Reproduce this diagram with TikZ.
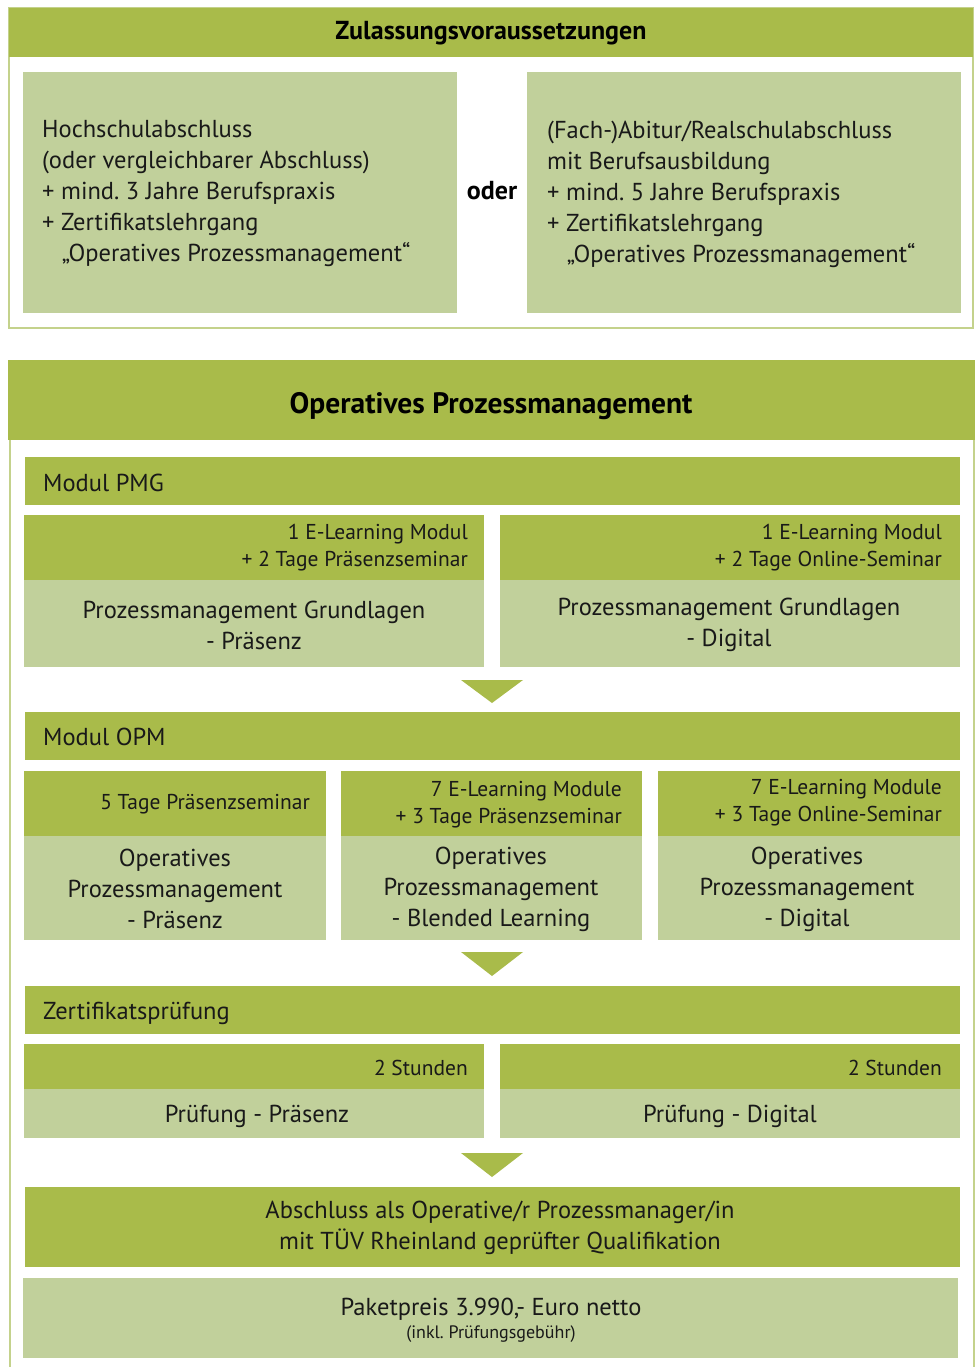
\documentclass[tikz,border=0pt]{standalone}
\usepackage{fontspec}
\setmainfont{PT Sans}
\usetikzlibrary{calc}
\frenchspacing
\definecolor{dk}{RGB}{169,187,74}
\definecolor{lt}{RGB}{193,208,155}
\definecolor{frame}{RGB}{196,210,140}
\newcommand\rbox[6]{\node[inner sep=0pt,outer sep=0pt,anchor=north west,fill=#2,minimum width={(#5-#3)*1pt},minimum height={(#6-#4)*1pt}] (#1) at (#3,#4) {};}
\tikzset{
  big/.style={font=\fontsize{24.5}{31}\selectfont, inner sep=0pt, text=black!90},
  small/.style={font=\fontsize{21.5}{27}\selectfont, inner sep=0pt, align=right, text=black!90},
  head/.style={font=\fontsize{26}{30}\selectfont\bfseries, inner sep=0pt},
  tri/.style={fill=dk}
}
\begin{document}
\begin{tikzpicture}[x=1pt,y=-1pt]
\useasboundingbox (0,0) rectangle (976,1367);
% ---------- Zulassungsvoraussetzungen ----------
\node[inner sep=0pt,outer sep=0pt,anchor=north west,draw=frame,line width=2pt,minimum width=964pt,minimum height=320pt] (zulFrame) at (9,8) {};
\rbox{zulHead}{dk}{9}{8}{973}{57}
\node[head] (zulT) at (491,33) {Zulassungsvoraussetzungen};
\rbox{zulA}{lt}{23}{72}{457}{313}
\rbox{zulB}{lt}{527}{72}{961}{313}
\node[big,anchor=west,align=left] (zulAT) at (42,194) {Hochschulabschluss\\(oder vergleichbarer Abschluss)\\+ mind. 3 Jahre Berufspraxis\\+ Zertifikatslehrgang\\\hspace*{0.8em}„Operatives Prozessmanagement“};
\node[big,anchor=west,align=left] (zulBT) at (547,194) {(Fach-)Abitur/Realschulabschluss\\mit Berufsausbildung\\+ mind. 5 Jahre Berufspraxis\\+ Zertifikatslehrgang\\\hspace*{0.8em}„Operatives Prozessmanagement“};
\node[head] (oder) at (492,191) {oder};
% ---------- Operatives Prozessmanagement ----------
\rbox{opHead}{dk}{8}{360}{975}{440}
\node[head,font=\fontsize{29.5}{34}\selectfont\bfseries] (opT) at (491,406) {Operatives Prozessmanagement};
\coordinate (lTop) at (10,440); \coordinate (lBot) at (10,1367);
\coordinate (rTop) at (974,440); \coordinate (rBot) at (974,1367);
\draw[frame,line width=2pt] (lTop) -- (lBot);
\draw[frame,line width=2pt] (rTop) -- (rBot);
% Modul PMG
\rbox{pmgBar}{dk}{25}{457}{960}{505}
\node[big,anchor=west] (pmgT) at (43,483) {Modul PMG};
\rbox{pmgLa}{dk}{24}{515}{484}{580}
\rbox{pmgLb}{lt}{24}{580}{484}{667}
\rbox{pmgRa}{dk}{500}{515}{960}{580}
\rbox{pmgRb}{lt}{500}{580}{960}{667}
\node[small,anchor=east] (pmgLaT) at (468,548) {1 E-Learning Modul\\+ 2 Tage Präsenzseminar};
\node[small,anchor=east] (pmgRaT) at (942,548) {1 E-Learning Modul\\+ 2 Tage Online-Seminar};
\node[big,align=center] (pmgLbT) at (254,625) {Prozessmanagement Grundlagen\\- Präsenz};
\node[big,align=center] (pmgRbT) at (729,625) {Prozessmanagement Grundlagen\\- Digital};
\fill[tri] (461,680) -- (523,680) -- (492,703) -- cycle;
% Modul OPM
\rbox{opmBar}{dk}{25}{712}{960}{760}
\node[big,anchor=west] (opmT) at (43,737) {Modul OPM};
\rbox{opmAa}{dk}{24}{771}{326}{836}
\rbox{opmAb}{lt}{24}{836}{326}{940}
\rbox{opmBa}{dk}{341}{771}{642}{836}
\rbox{opmBb}{lt}{341}{836}{642}{940}
\rbox{opmCa}{dk}{658}{771}{960}{836}
\rbox{opmCb}{lt}{658}{836}{960}{940}
\node[small,anchor=east] (opmAaT) at (310,804) {5 Tage Präsenzseminar};
\node[small,anchor=east] (opmBaT) at (622,805) {7 E-Learning Module\\+ 3 Tage Präsenzseminar};
\node[small,anchor=east] (opmCaT) at (942,803) {7 E-Learning Module\\+ 3 Tage Online-Seminar};
\node[big,align=center] (opmAbT) at (175,889) {Operatives\\Prozessmanagement\\- Präsenz};
\node[big,align=center] (opmBbT) at (491,889) {Operatives\\Prozessmanagement\\- Blended Learning};
\node[big,align=center] (opmCbT) at (807,889) {Operatives\\Prozessmanagement\\- Digital};
\fill[tri] (461,952) -- (523,952) -- (492,976) -- cycle;
% Zertifikatspruefung
\rbox{zBar}{dk}{25}{986}{960}{1034}
\node[big,anchor=west] (zT) at (43,1013) {Zertifikatsprüfung};
\rbox{zLa}{dk}{24}{1044}{484}{1089}
\rbox{zLb}{lt}{24}{1089}{484}{1138}
\rbox{zRa}{dk}{500}{1044}{960}{1089}
\rbox{zRb}{lt}{500}{1089}{960}{1138}
\node[small,anchor=east] (zLaT) at (468,1068) {2 Stunden};
\node[small,anchor=east] (zRaT) at (942,1068) {2 Stunden};
\node[big] (zLbT) at (257,1116) {Prüfung - Präsenz};
\node[big] (zRbT) at (730,1116) {Prüfung - Digital};
\fill[tri] (461,1153) -- (523,1153) -- (492,1177) -- cycle;
% Abschluss / Preis
\rbox{absch}{dk}{25}{1187}{960}{1267}
\node[big,align=center] (abschT) at (500,1228) {Abschluss als Operative/r Prozessmanager/in\\mit TÜV Rheinland geprüfter Qualifikation};
\rbox{preis}{lt}{23}{1278}{958}{1358}
\node[big] (preisT) at (491,1309) {Paketpreis 3.990,- Euro netto};
\node[inner sep=0pt,font=\fontsize{18}{20}\selectfont,text=black!90] (preisS) at (491,1334) {(inkl. Prüfungsgebühr)};
\end{tikzpicture}
\end{document}
